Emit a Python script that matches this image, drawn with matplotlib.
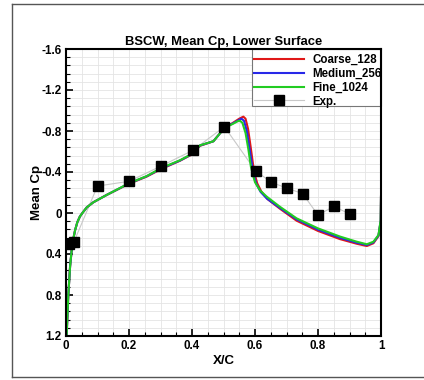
import matplotlib
matplotlib.use("Agg")
import matplotlib.pyplot as plt
from matplotlib.ticker import MultipleLocator, FuncFormatter
from matplotlib.patches import Rectangle
from matplotlib.lines import Line2D

plt.rcParams['font.family'] = ['Liberation Sans', 'DejaVu Sans']
plt.rcParams['font.weight'] = 'bold'

title = "BSCW, Mean Cp, Lower Surface"
xlabel = "X/C"
ylabel = "Mean Cp"
series_names = ["Coarse_128", "Medium_256", "Fine_1024", "Exp."]

# Coarse_128
x_coarse = [0.0, 0.002, 0.007, 0.013, 0.020, 0.029, 0.036, 0.044, 0.052, 0.066, 0.087, 0.129,
            0.200, 0.256, 0.303, 0.362, 0.402, 0.425, 0.468, 0.503, 0.530, 0.550, 0.563,
            0.570, 0.578, 0.586, 0.594, 0.600, 0.607, 0.620, 0.640, 0.680, 0.732, 0.800,
            0.870, 0.923, 0.955, 0.976, 0.992, 0.999, 1.0]
cp_coarse = [1.25, 1.20, 0.82, 0.52, 0.30, 0.166, 0.090, 0.035, 0.000, -0.055, -0.105, -0.176,
             -0.285, -0.355, -0.430, -0.510, -0.575, -0.655, -0.700, -0.830, -0.880, -0.920, -0.940,
             -0.920, -0.820, -0.650, -0.470, -0.370, -0.290, -0.210, -0.135, -0.040, 0.075, 0.175,
             0.255, 0.300, 0.322, 0.295, 0.225, 0.080, -0.160]

# Medium_256
x_medium = [0.0, 0.002, 0.007, 0.013, 0.020, 0.029, 0.036, 0.044, 0.052, 0.066, 0.087, 0.129,
            0.200, 0.256, 0.303, 0.362, 0.402, 0.425, 0.468, 0.503, 0.530, 0.548, 0.557,
            0.565, 0.574, 0.582, 0.591, 0.597, 0.604, 0.618, 0.638, 0.679, 0.732, 0.800,
            0.870, 0.923, 0.955, 0.976, 0.992, 0.999, 1.0]
cp_medium = [1.25, 1.20, 0.82, 0.52, 0.30, 0.166, 0.090, 0.035, 0.000, -0.055, -0.105, -0.176,
             -0.288, -0.358, -0.435, -0.512, -0.578, -0.658, -0.700, -0.830, -0.875, -0.905, -0.920,
             -0.900, -0.800, -0.640, -0.460, -0.360, -0.285, -0.205, -0.140, -0.050, 0.062, 0.162,
             0.242, 0.290, 0.312, 0.287, 0.220, 0.075, -0.160]

# Fine_1024
x_fine = [0.0, 0.002, 0.007, 0.013, 0.020, 0.029, 0.036, 0.044, 0.052, 0.066, 0.087, 0.129,
          0.200, 0.256, 0.303, 0.362, 0.402, 0.425, 0.468, 0.503, 0.530, 0.545, 0.552,
          0.560, 0.570, 0.579, 0.587, 0.595, 0.600, 0.616, 0.637, 0.679, 0.732, 0.800,
          0.870, 0.923, 0.955, 0.976, 0.992, 0.999, 1.0]
cp_fine = [1.25, 1.20, 0.82, 0.52, 0.30, 0.166, 0.090, 0.035, 0.000, -0.055, -0.105, -0.176,
           -0.290, -0.360, -0.440, -0.515, -0.580, -0.660, -0.700, -0.830, -0.870, -0.895, -0.900,
           -0.880, -0.780, -0.620, -0.450, -0.354, -0.300, -0.220, -0.160, -0.061, 0.052, 0.150,
           0.230, 0.280, 0.305, 0.280, 0.215, 0.070, -0.160]

# Experiment
x_exp = [0.010, 0.025, 0.100, 0.200, 0.303, 0.402, 0.503, 0.602, 0.652, 0.703, 0.751, 0.800, 0.851, 0.900]
cp_exp = [0.305, 0.283, -0.263, -0.309, -0.460, -0.610, -0.842, -0.410, -0.300, -0.240, -0.190, 0.020, -0.065, 0.010]

W, H = 424, 380
fig = plt.figure(figsize=(W / 100, H / 100), dpi=100)
ax = fig.add_axes([66/W, 1-336/H, (381-66)/W, (336-49)/H])

# outer frame: left, top and bottom edges only (right edge lies outside the picture)
fx0, fy0, fy1 = 11.5/W, 3.5/H, 1 - 4.0/H
for xs, ys in (([fx0, fx0], [fy0, fy1]), ([fx0, 1.0], [fy1, fy1]), ([fx0, 1.0], [fy0, fy0])):
    fig.lines.append(Line2D(xs, ys, transform=fig.transFigure, color='#555555', lw=1.0))

ax.plot(x_exp, cp_exp, color='#c8c8c8', lw=0.8, zorder=2)
ax.plot(x_coarse, cp_coarse, color='#e01818', lw=1.5, zorder=3, label=series_names[0])
ax.plot(x_medium, cp_medium, color='#2828e8', lw=1.5, zorder=4, label=series_names[1])
ax.plot(x_fine, cp_fine, color='#22cc22', lw=1.5, zorder=5, label=series_names[2])
ax.plot(x_exp, cp_exp, linestyle='none', marker='s', markersize=6.5, color='black', zorder=6)
exp_handle, = ax.plot([], [], color='#c8c8c8', lw=0.8, marker='s', markersize=6.5,
                      markerfacecolor='black', markeredgecolor='black', label=series_names[3])

ax.set_xlim(0, 1)
ax.set_ylim(1.2, -1.6)
ax.xaxis.set_major_locator(MultipleLocator(0.2))
ax.xaxis.set_minor_locator(MultipleLocator(0.05))
ax.yaxis.set_major_locator(MultipleLocator(0.4))
ax.yaxis.set_minor_locator(MultipleLocator(0.08))
fmt = FuncFormatter(lambda v, p: "%g" % round(v, 3))
ax.xaxis.set_major_formatter(fmt)
ax.yaxis.set_major_formatter(fmt)

ax.grid(True, which='both', color='#e4e4e4', lw=0.6, zorder=0)
ax.set_axisbelow(True)
ax.tick_params(which='both', direction='in', top=False, right=False, labelsize=8.4, width=1.2)
ax.tick_params(which='major', length=5, pad=3)
ax.tick_params(which='minor', length=3, width=0.8)
for s in ax.spines.values():
    s.set_linewidth(1.5)
    s.set_color('black')
    s.set_zorder(12)

ax.set_title(title, fontsize=9.4, fontweight='bold', pad=3)
ax.set_xlabel(xlabel, fontsize=9.5, fontweight='bold', labelpad=2)
ax.set_ylabel(ylabel, fontsize=9.5, fontweight='bold')
ax.yaxis.set_label_coords(-(66 - 43) / 315, 0.5)

# legend box
px = lambda v: (v - 66) / 315
py = lambda v: (336 - v) / 287
ax.add_patch(Rectangle((px(252), py(106)), 1 - px(252), 1 - py(106), transform=ax.transAxes,
                       facecolor='white', edgecolor='#777777', lw=0.8, zorder=9, clip_on=False))
leg = ax.legend(loc='upper left', bbox_to_anchor=(px(254), py(54)), handlelength=4.3,
                handletextpad=0.78, labelspacing=0.16, borderaxespad=0, borderpad=0,
                frameon=False, prop={'weight': 'bold', 'size': 8.3})
leg.set_zorder(10)

fig.savefig("out.png", dpi=100)
